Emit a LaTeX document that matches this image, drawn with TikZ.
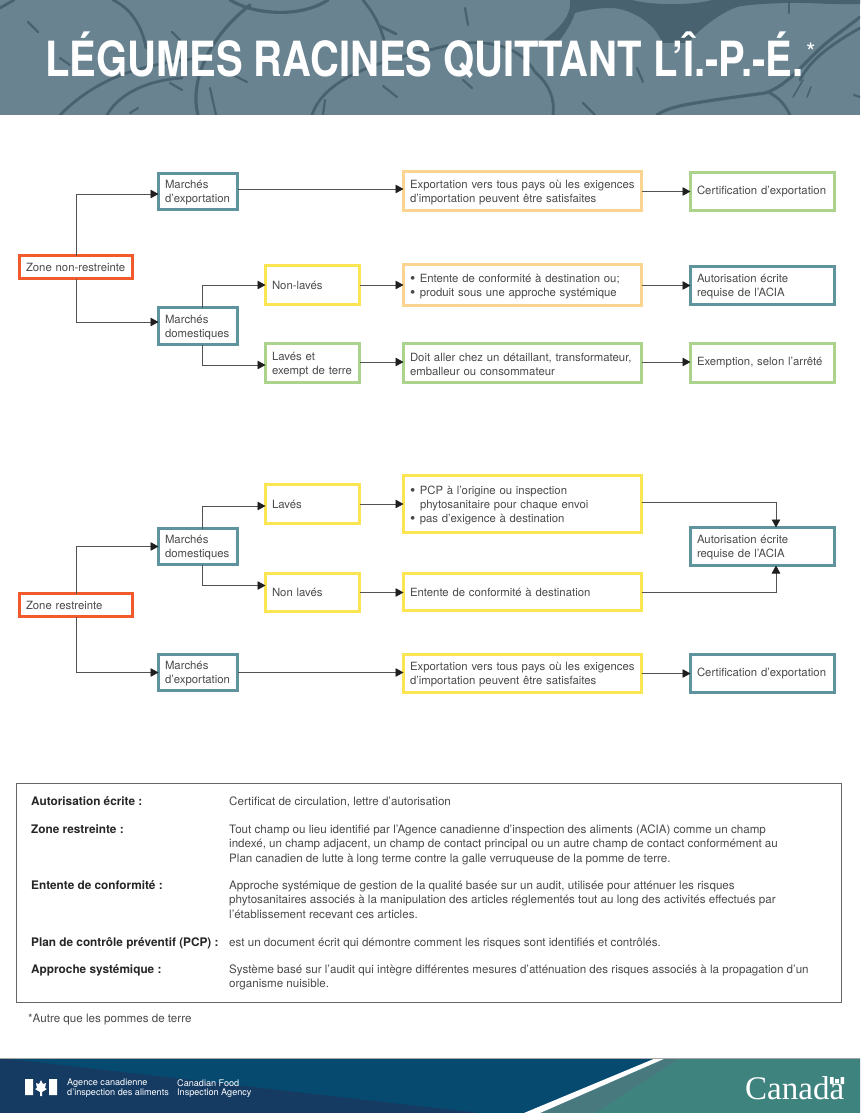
\documentclass[tikz,border=0pt]{standalone}
\usepackage{fontspec}
\usetikzlibrary{arrows.meta,calc,positioning}
\setmainfont{TeX Gyre Heros}
\newfontfamily\canadafont{Liberation Serif}
\definecolor{headbg}{HTML}{6A8391}
\definecolor{headdark}{HTML}{48636F}
\definecolor{tealbd}{HTML}{5F949E}
\definecolor{orangebd}{HTML}{F15A2B}
\definecolor{yellowbd}{HTML}{FBE552}
\definecolor{peachbd}{HTML}{FBD58F}
\definecolor{greenbd}{HTML}{ABD38B}
\definecolor{bodytext}{HTML}{4A4A4A}
\definecolor{footblue}{HTML}{064A70}
\definecolor{footnavy}{HTML}{153B62}
\definecolor{footteal}{HTML}{3F837F}
\definecolor{footwedge}{HTML}{47797F}
\newcommand{\puce}{\raisebox{-1.1pt}{\fontsize{15}{14}\selectfont\textbullet}\hspace{4.5pt}}

\begin{document}
\begin{tikzpicture}[x=1pt,y=-1pt,line join=miter]
	\tikzstyle{box}=[rectangle,anchor=north west,fill=white,outer sep=0pt,inner xsep=6.5pt,inner ysep=0pt,
		align=left,text=bodytext,font=\fontsize{11.35}{14}\selectfont,line width=2.6pt]
	\tikzstyle{teal box}=[box,draw=tealbd,preaction={draw=tealbd!45!white,line width=3.4pt}]
	\tikzstyle{orange box}=[box,draw=orangebd,preaction={draw=black!30,line width=3.4pt}]
	\tikzstyle{yellow box}=[box,draw=yellowbd,preaction={draw=black!32,line width=3.4pt}]
	\tikzstyle{peach box}=[box,draw=peachbd,preaction={draw=black!32,line width=3.4pt}]
	\tikzstyle{green box}=[box,draw=greenbd,preaction={draw=black!32,line width=3.4pt}]
	\tikzstyle{low text}=[execute at begin node={\rule{0pt}{11pt}}]
	\tikzstyle{w zone}=[text width=100pt]
	\tikzstyle{w market}=[text width=66pt]
	\tikzstyle{w kind}=[text width=81pt]
	\tikzstyle{w rule}=[text width=225pt]
	\tikzstyle{w end}=[text width=131pt]
	\tikzstyle{flow}=[draw=black!68,line width=.9pt,-{Triangle[length=8pt,width=8.5pt,color=black!88]}]
	\tikzstyle{root}=[draw=headdark,line width=2.8pt,line cap=round]
	\tikzstyle{term}=[anchor=north west,inner sep=0pt,align=left,text=black!85,font=\fontsize{11.8}{14.5}\selectfont\bfseries]
	\tikzstyle{meaning}=[anchor=north west,inner sep=0pt,align=left,text=bodytext,font=\fontsize{11.6}{14.5}\selectfont]
	\tikzstyle{agency}=[anchor=north west,inner sep=0pt,align=left,text=white,font=\fontsize{9.1}{9.6}\selectfont]

	\useasboundingbox (0,0) rectangle (860,1113);
	\fill[white] (0,0) rectangle (860,1113);

	%header
	\fill[headbg] (0,0) rectangle (860,115);
	\begin{scope}
		\clip (0,0) rectangle (860,115);
		%roots, left half
		\draw[root] (0,8) -- (14,0);
		\draw[root] (113,0) .. controls (130,8) and (142,25) .. (146,48);
		\draw[root] (60,115) .. controls (95,80) and (135,65) .. (200,58);
		\draw[root] (107,115) .. controls (120,92) and (150,80) .. (182,78);
		\draw[root,line width=3.2pt] (198,115) .. controls (190,85) and (205,40) .. (250,5);
		\draw[root,line width=3.2pt] (230,0) .. controls (255,15) and (300,18) .. (328,0);
		\draw[root] (363,0) .. controls (375,15) and (383,30) .. (386,50);
		\draw[root] (380,26) -- (396,34);
		\draw[root] (312,115) .. controls (322,85) and (360,65) .. (430,50);
		%roots, right half
		\draw[root] (430,50) .. controls (470,38) and (515,38) .. (535,72) .. controls (550,85) and (555,100) .. (553,115);
		\fill[headdark] (570,0) -- (632,0) .. controls (650,5) and (690,6) .. (712,0) -- (860,0) -- (860,4)
			.. controls (830,5) and (805,2) .. (783,3) .. controls (760,4) and (745,5) .. (737,7)
			.. controls (722,12) and (700,28) .. (688,43) -- (663,43) -- (657,33)
			.. controls (650,22) and (630,8) .. (610,8) .. controls (598,8) and (585,10) .. (575,13)
			.. controls (570,28) and (560,40) .. (552,50) -- (541,42) .. controls (555,32) and (572,18) .. (570,0) -- cycle;
		\draw[root,line width=3.2pt] (657,115) .. controls (670,105) and (700,102) .. (765,93)
			.. controls (790,85) and (805,60) .. (830,40) .. controls (840,32) and (850,25) .. (860,17);
		\draw[root] (790,115) .. controls (785,105) and (780,98) .. (768,92);
		\draw[root] (860,28) .. controls (830,45) and (810,60) .. (800,80);
		\draw[root,line width=1.6pt] (793,97) -- (803,80);
		\draw[root,line width=1.6pt] (807,97) -- (811,87);
		%small marks
		\foreach \ax/\ay/\bx/\by in {28/22/38/32,172/32/180/40,60/58/70/65,170/83/182/90,233/75/247/82,383/86/397/97,
			465/8/468/25,637/68/643/82,463/80/472/88,583/103/595/115,130/113/138/108,210/88/216/115,325/100/323/115,789/3/789/13,854/95/860/97}
			\draw[root,line width=2.2pt] (\ax,\ay) -- (\bx,\by);
	\end{scope}
	\node[anchor=base west,inner sep=0pt,text=white,font=\fontsize{48.5}{48.5}\selectfont\bfseries,xscale=.824] (title) at (45,77) {LÉGUMES RACINES QUITTANT L’Î.-P.-É.};
	\node[anchor=base west,inner sep=0pt,text=white,font=\fontsize{24}{24}\selectfont] (star) at (806,60.5) {*};

	%zone non-restreinte
	\node[orange box,w zone,minimum height=23pt] (zone1) at (19.5,255.5) {Zone non-restreinte};
	\node[teal box,low text,w market,minimum height=36pt] (mexp1) at (158.5,173.5) {Marchés\\d’exportation};
	\node[teal box,low text,w market,minimum height=37pt] (mdom1) at (158.5,307.5) {Marchés\\domestiques};
	\node[yellow box,w kind,minimum height=39pt] (nlav1) at (265.5,265.5) {Non-lavés};
	\node[green box,low text,w kind,minimum height=39pt] (lav1) at (265.5,343.5) {Lavés et\\exempt de terre};
	\node[peach box,low text,w rule,minimum height=39pt] (exp1) at (403.5,171.5) {Exportation vers tous pays où les exigences\\d’importation peuvent être satisfaites};
	\node[peach box,low text,w rule,minimum height=41pt] (ent1) at (403.5,264.5) {\puce Entente de conformité à destination ou;\\\puce produit sous une approche systémique};
	\node[green box,low text,w rule,minimum height=39pt] (doit1) at (403.5,343.5) {Doit aller chez un détaillant, transformateur,\\emballeur ou consommateur};
	\node[green box,w end,minimum height=38pt] (cert1) at (690.5,172.5) {Certification d’exportation};
	\node[teal box,low text,w end,minimum height=38pt] (aut1) at (690.5,266.5) {Autorisation écrite\\requise de l’ACIA};
	\node[green box,w end,minimum height=39pt] (exm1) at (690.5,343.5) {Exemption, selon l’arrêté};

	%zone restreinte
	\node[orange box,w zone,minimum height=23pt] (zone2) at (19.5,593.5) {Zone restreinte};
	\node[teal box,low text,w market,minimum height=36pt] (mdom2) at (158.5,528.5) {Marchés\\domestiques};
	\node[teal box,low text,w market,minimum height=36pt] (mexp2) at (158.5,654.5) {Marchés\\d’exportation};
	\node[yellow box,w kind,minimum height=39pt] (lav2) at (265.5,484.5) {Lavés};
	\node[yellow box,w kind,minimum height=38pt] (nlav2) at (265.5,573.5) {Non lavés};
	\node[yellow box,low text,w rule,minimum height=57pt] (pcp2) at (403.5,475.5) {\puce PCP à l’origine ou inspection\\\hspace*{10pt}phytosanitaire pour chaque envoi\\\puce pas d’exigence à destination};
	\node[yellow box,w rule,minimum height=37pt] (ent2) at (403.5,573.5) {Entente de conformité à destination};
	\node[yellow box,low text,w rule,minimum height=38pt] (exp2) at (403.5,654.5) {Exportation vers tous pays où les exigences\\d’importation peuvent être satisfaites};
	\node[teal box,low text,w end,minimum height=38pt] (aut2) at (690.5,527.5) {Autorisation écrite\\requise de l’ACIA};
	\node[teal box,w end,minimum height=38pt] (cert2) at (690.5,654.5) {Certification d’exportation};

	%branch points
	\coordinate (fork) at (202,0);
	\coordinate (merge) at (776,0);

	%connectors, top
	\draw[flow] (zone1.north) |- ([yshift=-2.5pt]mexp1.west);
	\draw[flow] (zone1.south) |- ([yshift=4pt]mdom1.west);
	\draw[flow] ([yshift=2pt]exp1.west -| mexp1.east) -- ([yshift=2pt]exp1.west);
	\draw[flow] (fork |- mdom1.north) |- (nlav1.west);
	\draw[flow] (fork |- mdom1.south) |- ([yshift=-2pt]lav1.west);
	\draw[flow] (nlav1.east) -- (nlav1.east -| ent1.west);
	\draw[flow] ([yshift=1pt]lav1.east) -- ([yshift=1pt]doit1.west);
	\draw[flow] (exp1.east |- cert1.west) -- (cert1.west);
	\draw[flow] (ent1.east |- aut1.west) -- (aut1.west);
	\draw[flow] ([yshift=1pt]doit1.east) -- ([yshift=1pt]exm1.west);

	%connectors, bottom
	\draw[flow] (zone2.north) |- (mdom2.west);
	\draw[flow] (zone2.south) |- (mexp2.west);
	\draw[flow] (fork |- mdom2.north) |- ([yshift=-2pt]lav2.west);
	\draw[flow] (fork |- mdom2.south) |- ([yshift=7pt]nlav2.west);
	\draw[flow] (lav2.east) -- (lav2.east -| pcp2.west);
	\draw[flow] (nlav2.east) -- (nlav2.east -| ent2.west);
	\draw[flow] (mexp2.east) -- (mexp2.east -| exp2.west);
	\draw[flow] (exp2.east) -- (exp2.east -| cert2.west);
	\draw[flow] ([yshift=2pt]pcp2.east) -| (merge |- aut2.north);
	\draw[flow] (ent2.east) -| (merge |- aut2.south);

	%glossary
	\draw[black!60,line width=.7pt] (16.5,783.5) rectangle (841,1002);
	\node[term] (t1) at (31,796.5) {Autorisation écrite :};
	\node[meaning] (m1) at (229,796.5) {Certificat de circulation, lettre d’autorisation};
	\node[term] (t2) at (31,824.5) {Zone restreinte :};
	\node[meaning] (m2) at (229,824.5) {Tout champ ou lieu identifié par l’Agence canadienne d’inspection des aliments (ACIA) comme un champ\\indexé, un champ adjacent, un champ de contact principal ou un autre champ de contact conformément au\\Plan canadien de lutte à long terme contre la galle verruqueuse de la pomme de terre.};
	\node[term] (t3) at (31,880.5) {Entente de conformité :};
	\node[meaning] (m3) at (229,880.5) {Approche systémique de gestion de la qualité basée sur un audit, utilisée pour atténuer les risques\\phytosanitaires associés à la manipulation des articles réglementés tout au long des activités effectués par\\l’établissement recevant ces articles.};
	\node[term] (t4) at (31,937.5) {Plan de contrôle préventif (PCP) :};
	\node[meaning] (m4) at (229,937.5) {est un document écrit qui démontre comment les risques sont identifiés et contrôlés.};
	\node[term] (t5) at (31,964.5) {Approche systémique :};
	\node[meaning] (m5) at (229,964.5) {Système basé sur l’audit qui intègre différentes mesures d’atténuation des risques associés à la propagation d’un\\organisme nuisible.};
	\node[meaning] (note) at (28,1013.5) {*Autre que les pommes de terre};

	%footer
	\fill[footblue] (0,1058) rectangle (670,1113);
	\fill[footnavy] (0,1058) -- (480,1113) -- (0,1113) -- cycle;
	\fill[footteal] (666,1058) -- (860,1058) -- (860,1113) -- (540,1113) -- cycle;
	\fill[footwedge] (666,1058) -- (680,1058) -- (595,1113) -- (540,1113) -- cycle;
	\fill[white] (656,1058) -- (666,1058) -- (540,1113) -- (524,1113) -- cycle;
	\draw[black!35,line width=.8pt] (0,1058) -- (860,1058);

	%wordmarks
	\fill[white] (25,1079) rectangle (33,1095) (49,1079) rectangle (57,1095);
	\fill[white] (41,1080) -- (43,1084) -- (46,1083) -- (45,1088) -- (47,1089) -- (42,1092) -- (42,1096) -- (40,1096) -- (40,1092) -- (35,1089) -- (37,1088) -- (36,1083) -- (39,1084) -- cycle;
	\node[agency] (fip1) at (67,1079) {Agence canadienne\\d’inspection des aliments};
	\node[agency] (fip2) at (177,1079) {Canadian Food\\Inspection Agency};
	\node[anchor=base west,inner sep=0pt,text=white,font=\canadafont\fontsize{33}{33}\selectfont] (canada) at (745,1099) {Canada};
	\fill[white] (830,1077) rectangle (833.5,1084) (840.5,1077) rectangle (844,1084);
	\fill[white] (835,1078.5) rectangle (839,1082.5);
\end{tikzpicture}
\end{document}
